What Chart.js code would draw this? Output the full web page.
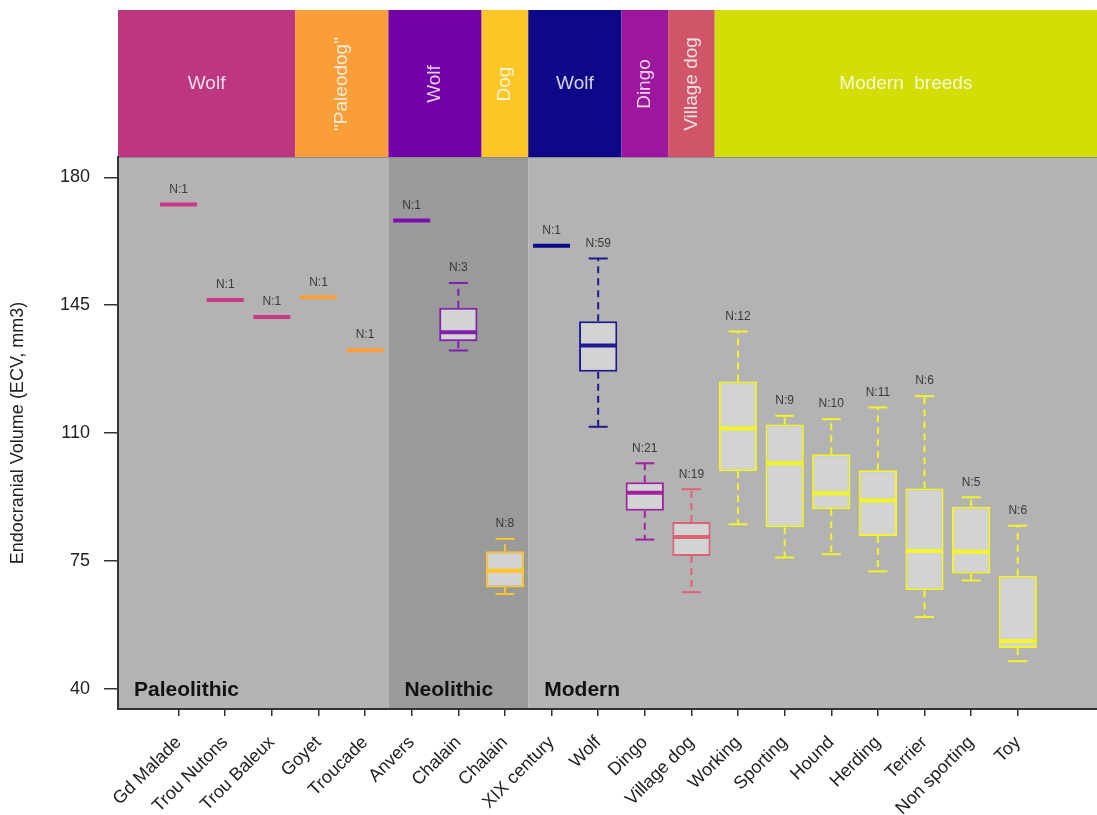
<!DOCTYPE html>
<html>
<head>
<meta charset="utf-8">
<script src="https://cdn.jsdelivr.net/npm/chart.js@4.4.1/dist/chart.umd.min.js"></script>
<style>
  html, body { margin: 0; padding: 0; background: #fff; }
</style>
</head>
<body>
<canvas id="ecvChart" width="1097" height="815"></canvas>
<script>
// Groups along the x axis (positions 1..19)
const groupLabels = ['Gd Malade', 'Trou Nutons', 'Trou Baleux', 'Goyet', 'Troucade', 'Anvers', 'Chalain', 'Chalain',
  'XIX century', 'Wolf', 'Dingo', 'Village dog', 'Working', 'Sporting', 'Hound', 'Herding', 'Terrier', 'Non sporting', 'Toy'];
const sampleSizes = [1, 1, 1, 1, 1, 1, 3, 8, 1, 59, 21, 19, 12, 9, 10, 11, 6, 5, 6];

// Box statistics (single specimens only carry the median)
const whiskerLow  = [null, null, null, null, null, null, 132.6, 65.9, null, 111.7, 80.8, 66.4, 85.0, 75.9, 76.8, 72.1, 59.6, 69.6, 47.5];
const quart1      = [null, null, null, null, null, null, 135.1, 67.7, null, 126.8, 88.7, 76.3, 99.5, 84.2, 89.1, 81.8, 66.9, 71.5, 51.1];
const medians     = [172.6, 146.4, 141.8, 147.2, 132.7, 168.2, 137.6, 72.3, 161.3, 134.0, 93.6, 81.5, 111.2, 101.7, 93.5, 91.5, 77.7, 77.5, 53.0];
const quart3      = [null, null, null, null, null, null, 144.3, 77.6, null, 140.6, 96.5, 85.6, 124.1, 112.3, 104.2, 99.8, 94.8, 89.8, 70.9];
const whiskerHigh = [null, null, null, null, null, null, 151.1, 81.0, null, 157.8, 101.7, 94.6, 137.8, 114.7, 113.8, 117.0, 120.1, 92.4, 84.6];

const groupColors = ['#c93a86', '#c93a86', '#c93a86', '#f99e39', '#f99e39', '#7a0dab', '#7e1fae', '#fdc527',
  '#0d0887', '#1f1a90', '#a0229f', '#dd6177', '#f2f527', '#f2f527', '#f2f527', '#f2f527', '#f2f527', '#f2f527', '#f2f527'];

const yTicks = [40, 75, 110, 145, 180];

// Coloured header bands above the plot (x in group positions)
const headerNames    = ['Wolf', '"Paleodog"', 'Wolf', 'Dog', 'Wolf', 'Dingo', 'Village dog', 'Modern  breeds'];
const headerFrom     = [-0.3, 3.5, 5.5, 7.5, 8.5, 10.5, 11.5, 12.5];
const headerTo       = [3.5, 5.5, 7.5, 8.5, 10.5, 11.5, 12.5, 20.7];
const headerColors   = ['#bc3780', '#f99e39', '#7301a8', '#fdc627', '#0d0887', '#9c179e', '#d15569', '#d3de07'];
const headerVertical = [false, true, true, true, false, true, true, false];

// Periods shaded behind the boxes
const periodNames = ['Paleolithic', 'Neolithic', 'Modern'];
const periodFrom  = [-0.3, 5.5, 8.5];
const periodTo    = [5.5, 8.5, 20.7];
const periodFill  = ['#b3b3b3', '#9a9a9a', '#b3b3b3'];

const FONT = "'Liberation Sans', Arial, sans-serif";
Chart.defaults.font.family = FONT;

// Build the datasets from the arrays above
const boxIdx = groupLabels.map((_, i) => i).filter(i => sampleSizes[i] > 1);

const boxData = boxIdx.map(i => ({ x: i + 1, y: [quart1[i], quart3[i]] }));

const whiskerData = [];
boxIdx.forEach(i => {
  whiskerData.push(
    { x: i + 1, y: quart3[i] }, { x: i + 1, y: whiskerHigh[i] }, { x: i + 1, y: null },
    { x: i + 1, y: quart1[i] }, { x: i + 1, y: whiskerLow[i] }, { x: i + 1, y: null });
});

const capData = [];
boxIdx.forEach(i => {
  capData.push({ x: i + 1, y: whiskerHigh[i] }, { x: i + 1, y: whiskerLow[i] });
});
const capColors = boxIdx.flatMap(i => [groupColors[i], groupColors[i]]);

const medianData = groupLabels.map((_, i) => ({ x: i + 1, y: medians[i] }));

// header bands + period shading, painted before the axes
const backdrop = {
  id: 'backdrop',
  beforeDraw(chart) {
    const { ctx, chartArea: a, scales: { x } } = chart;
    ctx.save();
    periodNames.forEach((_, i) => {
      const x0 = x.getPixelForValue(periodFrom[i]);
      const x1 = x.getPixelForValue(periodTo[i]);
      ctx.fillStyle = periodFill[i];
      ctx.fillRect(x0, a.top, x1 - x0, a.bottom - a.top);
    });
    const top = 10;
    headerNames.forEach((name, i) => {
      const x0 = x.getPixelForValue(headerFrom[i]);
      const x1 = x.getPixelForValue(headerTo[i]);
      ctx.fillStyle = headerColors[i];
      ctx.fillRect(x0, top, x1 - x0, a.top - top);
      ctx.fillStyle = 'rgba(255,255,255,0.82)';
      ctx.font = '19px ' + FONT;
      ctx.textAlign = 'center';
      ctx.textBaseline = 'middle';
      ctx.save();
      ctx.translate((x0 + x1) / 2, 84);
      if (headerVertical[i]) ctx.rotate(-Math.PI / 2);
      ctx.fillText(name, 0, 0);
      ctx.restore();
    });
    ctx.strokeStyle = '#8c8c8c';
    ctx.lineWidth = 1;
    ctx.beginPath();
    ctx.moveTo(a.left, a.top + 0.5);
    ctx.lineTo(a.right, a.top + 0.5);
    ctx.stroke();
    ctx.restore();
  }
};

// sample size above each group, period names along the bottom
const annotations = {
  id: 'annotations',
  afterDatasetsDraw(chart) {
    const { ctx, chartArea: a, scales: { x, y } } = chart;
    ctx.save();
    ctx.fillStyle = '#3a3a3a';
    ctx.font = '12px ' + FONT;
    ctx.textAlign = 'center';
    ctx.textBaseline = 'middle';
    groupLabels.forEach((_, i) => {
      const topVal = whiskerHigh[i] !== null ? whiskerHigh[i] : medians[i];
      ctx.fillText('N:' + sampleSizes[i], x.getPixelForValue(i + 1), y.getPixelForValue(topVal) - 15);
    });
    ctx.fillStyle = '#111';
    ctx.font = 'bold 21px ' + FONT;
    ctx.textAlign = 'left';
    ctx.textBaseline = 'alphabetic';
    periodNames.forEach((name, i) => {
      ctx.fillText(name, x.getPixelForValue(periodFrom[i]) + 16, a.bottom - 13);
    });
    ctx.restore();
  }
};

new Chart(document.getElementById('ecvChart'), {
  data: {
    datasets: [
      {
        type: 'scatter',
        data: medianData,
        pointStyle: 'line',
        pointRadius: 18.5,
        pointHoverRadius: 18.5,
        pointBorderWidth: 4,
        pointBorderColor: groupColors,
        order: 0
      },
      {
        type: 'scatter',
        data: capData,
        pointStyle: 'line',
        pointRadius: 9.5,
        pointHoverRadius: 9.5,
        pointBorderWidth: 2,
        pointBorderColor: capColors,
        order: 1
      },
      {
        type: 'line',
        data: whiskerData,
        showLine: true,
        spanGaps: false,
        pointRadius: 0,
        borderWidth: 2,
        borderDash: [7, 5],
        segment: {
          borderColor: c => groupColors[whiskerData[c.p0DataIndex].x - 1]
        },
        order: 2
      },
      {
        type: 'bar',
        data: boxData,
        backgroundColor: '#d3d3d3',
        borderColor: boxIdx.map(i => groupColors[i]),
        borderWidth: 2,
        borderSkipped: false,
        categoryPercentage: 1,
        barPercentage: 0.82,
        order: 3
      }
    ]
  },
  options: {
    responsive: false,
    animation: false,
    layout: { autoPadding: false, padding: { top: 157, left: 0, right: 0, bottom: 0 } },
    plugins: {
      legend: { display: false },
      tooltip: { enabled: false }
    },
    scales: {
      x: {
        type: 'linear',
        min: -0.3,
        max: 20.7,
        offset: false,
        afterBuildTicks: s => { s.ticks = groupLabels.map((_, i) => ({ value: i + 1 })); },
        afterFit: s => {
          s.height = 106;
          s.paddingLeft = 0;
          s.paddingRight = 0;
        },
        grid: { drawOnChartArea: false, drawTicks: true, tickLength: 7, color: '#333', lineWidth: 1.5, offset: false },
        border: { display: true, color: '#333', width: 2 },
        ticks: {
          autoSkip: false,
          minRotation: 45,
          maxRotation: 45,
          padding: 16,
          color: '#222',
          font: { size: 18 },
          callback: v => groupLabels[v - 1]
        }
      },
      y: {
        type: 'linear',
        min: 34.4,
        max: 185.6,
        afterBuildTicks: s => { s.ticks = yTicks.map(v => ({ value: v })); },
        afterFit: s => { s.width = 118; },
        grid: { drawOnChartArea: false, drawTicks: true, tickLength: 14, color: '#333', lineWidth: 1.5 },
        border: { display: true, color: '#333', width: 2 },
        ticks: { padding: 14, color: '#222', font: { size: 18 } },
        title: {
          display: true,
          text: 'Endocranial Volume (ECV, mm3)',
          color: '#222',
          font: { size: 18 },
          padding: { top: 7, bottom: 0 }
        }
      }
    }
  },
  plugins: [backdrop, annotations]
});
</script>
</body>
</html>
